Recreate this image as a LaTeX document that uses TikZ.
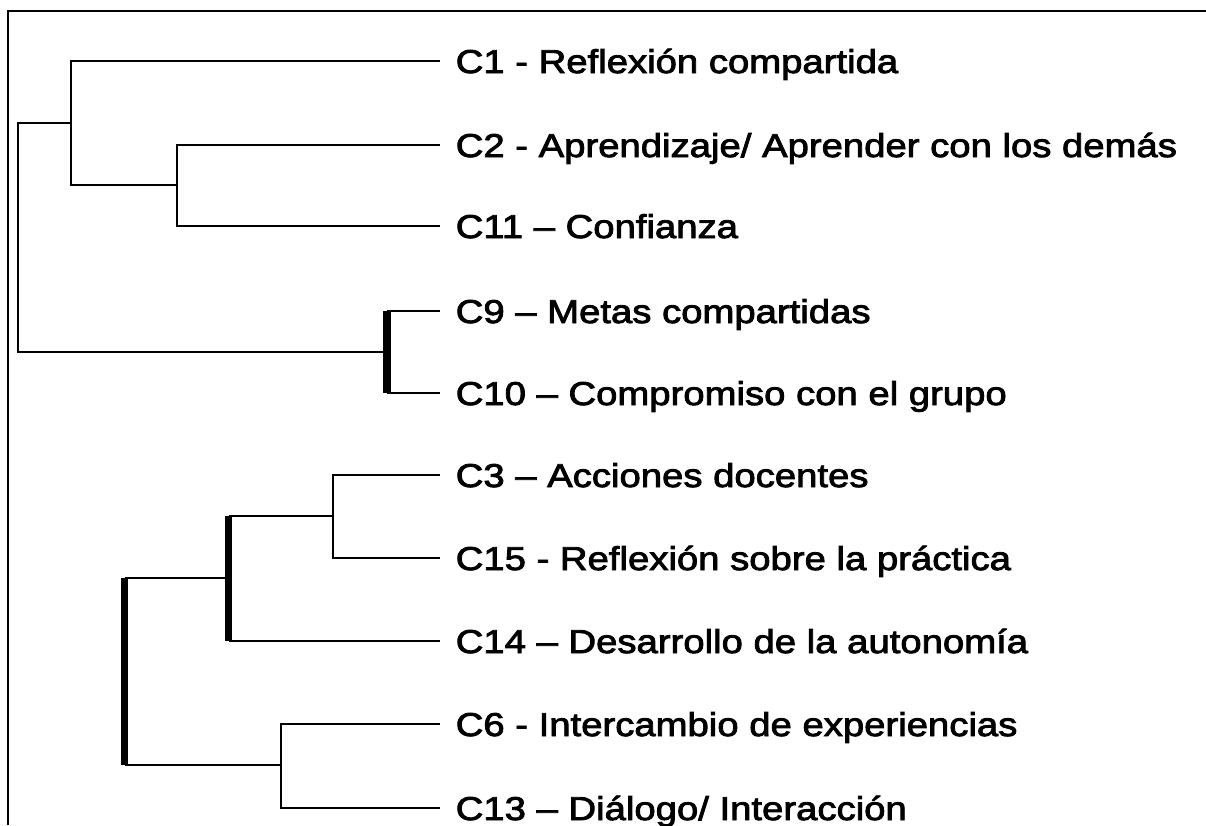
\documentclass[tikz,border=0pt]{standalone}
\usepackage{fontspec}
\newfontfamily\leaffont{Liberation Sans}[FakeStretch=1.16,FakeBold=2.6]
\usepackage{tikz}

\tikzset{
  leaf/.style={anchor=base west,inner sep=0pt,xshift=15pt,yshift=-12pt,
    font=\leaffont\fontsize{33}{33}\selectfont},
  bar/.style={line width=7.5pt},
  rim/.style={line width=1.5pt}
}

\begin{document}
\begin{tikzpicture}[x=1pt,y=-1pt,line width=1.5pt]
\useasboundingbox (0,0) rectangle (1206,825);
\draw[rim] (8,825) -- (8,11) -- (1206,11);
%%leaf ends
\path (440,61) coordinate (c1);
\path (440,145) coordinate (c2);
\path (440,226) coordinate (c11);
\path (440,311) coordinate (c9);
\path (440,393) coordinate (c10);
\path (440,475) coordinate (c3);
\path (440,558) coordinate (c15);
\path (440,641) coordinate (c14);
\path (440,724) coordinate (c6);
\path (440,808) coordinate (c13);
%%joins
\path (177,185) coordinate (k211);
\path (71,123) coordinate (k1);
\path (387,352) coordinate (k910);
\path (18,240) coordinate (root);
\path (333,516) coordinate (k315);
\path (228.5,578) coordinate (k14);
\path (281,765) coordinate (k613);
\path (124.5,670) coordinate (k0);
%%upper tree
\draw (c2) -| (k211) |- (c11);
\draw (c1) -| (k1) |- (k211);
\draw (k1) -| (root) |- (k910);
\draw (c9) -- (c9 -| k910);
\draw (c10) -- (c10 -| k910);
\draw[bar] (c9 -| k910) -- (c10 -| k910);
%%lower tree
\draw (c3) -| (k315) |- (c15);
\draw (k315) -- (k315 -| k14);
\draw (c14) -- (c14 -| k14);
\draw[bar] (k315 -| k14) -- (c14 -| k14);
\draw (c6) -| (k613) |- (c13);
\draw (k14) -- (k14 -| k0);
\draw (k613) -- (k613 -| k0);
\draw[bar] (k14 -| k0) -- (k613 -| k0);
%%finally the labels
\node[leaf] (t1) at (c1) {C1 - Reflexión compartida};
\node[leaf] (t2) at (c2) {C2 - Aprendizaje/ Aprender con los demás};
\node[leaf] (t11) at (c11) {C11 – Confianza};
\node[leaf] (t9) at (c9) {C9 – Metas compartidas};
\node[leaf] (t10) at (c10) {C10 – Compromiso con el grupo};
\node[leaf] (t3) at (c3) {C3 – Acciones docentes};
\node[leaf] (t15) at (c15) {C15 - Reflexión sobre la práctica};
\node[leaf] (t14) at (c14) {C14 – Desarrollo de la autonomía};
\node[leaf] (t6) at (c6) {C6 - Intercambio de experiencias};
\node[leaf] (t13) at (c13) {C13 – Diálogo/ Interacción};
\end{tikzpicture}
\end{document}
